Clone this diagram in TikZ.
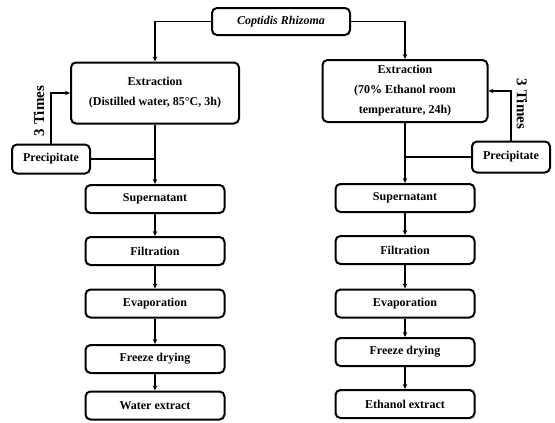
\documentclass[tikz,border=0pt]{standalone}
\usepackage{fontspec}
\setmainfont{Liberation Serif}
\usetikzlibrary{arrows.meta,calc}
\begin{document}
\begin{tikzpicture}[x=1pt,y=-1pt,
  box/.style={draw, line width=2pt, rounded corners=5pt, minimum height=28pt, inner sep=0pt,
    align=center, font=\fontsize{12}{20}\selectfont\bfseries},
  colbox/.style={box, minimum width=139pt},
  conn/.style={line width=1.6pt},
  arr/.style={conn, -{Stealth[length=5pt,width=4.5pt]}},
  lbl/.style={font=\fontsize{15}{17}\selectfont\bfseries}]
\useasboundingbox (0,0) rectangle (555,423);

\node[box, minimum width=138pt, minimum height=27pt] (top) at (281,21.5) {\textit{Coptidis Rhizoma}};

\node[box, minimum width=168pt, minimum height=61pt] (ext1) at (155,93) {Extraction\\(Distilled water, 85°C, 3h)};
\node[box, minimum width=165pt, minimum height=62pt] (ext2) at (405,91) {Extraction\\(70\% Ethanol room\\temperature, 24h)};

\node[box, minimum width=78pt, minimum height=29pt] (prec1) at (51,159) {Precipitate};
\node[box, minimum width=78pt, minimum height=31pt] (prec2) at (511,157) {Precipitate};

\node[colbox] (sup1) at (155,199) {Supernatant};
\node[colbox] (fil1) at (155,251) {Filtration};
\node[colbox] (eva1) at (155,303.5) {Evaporation};
\node[colbox] (fre1) at (155,359) {Freeze drying};
\node[colbox] (wat1) at (155,405.5) {Water extract};

\node[colbox] (sup2) at (405,198) {Supernatant};
\node[colbox] (fil2) at (405,250) {Filtration};
\node[colbox] (eva2) at (405,303.5) {Evaporation};
\node[colbox] (fre2) at (405,352) {Freeze drying};
\node[colbox] (eth2) at (405,404) {Ethanol extract};

\draw[arr] (top.west) -| (ext1.north);
\draw[arr] (top.east) -| (ext2.north);

\draw[arr] (ext1.south) -- (sup1.north);
\coordinate (j1) at (prec1.east -| ext1.south);
\draw[conn] (prec1.east) -- (j1);
\draw[arr] (prec1.north) |- (ext1.west);

\draw[arr] (ext2.south) -- (sup2.north);
\coordinate (j2) at (prec2.west -| ext2.south);
\draw[conn] (prec2.west) -- (j2);
\draw[arr] (prec2.north) |- (ext2.west -| ext2.east);

\draw[arr] (sup1) -- (fil1);
\draw[arr] (fil1) -- (eva1);
\draw[arr] (eva1) -- (fre1);
\draw[arr] (fre1) -- (wat1);

\draw[arr] (sup2) -- (fil2);
\draw[arr] (fil2) -- (eva2);
\draw[arr] (eva2) -- (fre2);
\draw[arr] (fre2) -- (eth2);

\node[lbl, rotate=90] (t1) at (39,111) {3 Times};
\node[lbl, rotate=-90] (t2) at (522,104) {3 Times};
\end{tikzpicture}
\end{document}
